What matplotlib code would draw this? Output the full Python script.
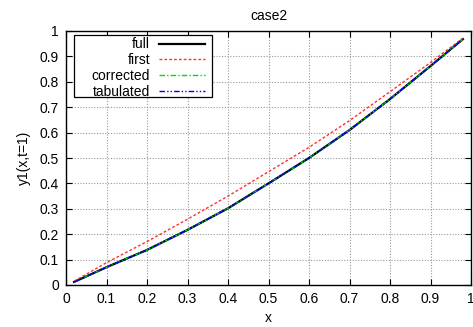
import matplotlib
matplotlib.use("Agg")
import matplotlib.pyplot as plt
from matplotlib.patches import Rectangle
import numpy as np

plt.rcParams['font.family'] = ['Liberation Sans', 'DejaVu Sans']

x = [0.02, 0.1, 0.2, 0.3, 0.4, 0.5, 0.6, 0.7, 0.8, 0.9, 0.98]
full = [0.012, 0.070, 0.138, 0.217, 0.302, 0.400, 0.500, 0.610, 0.732, 0.862, 0.968]
first = [0.015, 0.088, 0.171, 0.259, 0.350, 0.446, 0.542, 0.647, 0.761, 0.876, 0.972]
corrected = [0.012, 0.070, 0.138, 0.217, 0.302, 0.400, 0.500, 0.610, 0.732, 0.862, 0.968]
tabulated = [0.012, 0.070, 0.138, 0.217, 0.302, 0.400, 0.500, 0.610, 0.732, 0.862, 0.968]

xticks = [0, 0.1, 0.2, 0.3, 0.4, 0.5, 0.6, 0.7, 0.8, 0.9, 1]
yticks = [0, 0.1, 0.2, 0.3, 0.4, 0.5, 0.6, 0.7, 0.8, 0.9, 1]

fig = plt.figure(figsize=(4.73, 3.27), dpi=100)
ax = fig.add_axes([66/473, 1-285/327, 405/473, 254/327])

ax.plot(x, full, color='black', lw=1.6, label='full')
ax.plot(x, first, color='#ff3030', lw=1.0, ls=(0, (2, 1.5)), label='first')
ax.plot(x, corrected, color='#00dd00', lw=1.0, ls=(0, (4, 1.5, 1, 1.5)), label='corrected')
ax.plot(x, tabulated, color='#0000ee', lw=1.0, ls=(0, (4, 1.5, 1, 1.5, 1, 1.5)), label='tabulated')

ax.set_xlim(0, 1)
ax.set_ylim(0, 1)
ax.set_xticks(xticks)
ax.set_yticks(yticks)
ax.set_xticklabels([f"{v:g}" for v in xticks], fontsize=10)
ax.set_yticklabels([f"{v:g}" for v in yticks], fontsize=10)
ax.tick_params(direction='in', top=True, right=True, length=4, width=0.8, pad=5)
ax.grid(True, color='#999999', ls=(0, (1, 1.5)), lw=0.8)
for s in ax.spines.values():
    s.set_linewidth(1.0)

ax.set_title('case2', fontsize=10, pad=8)
ax.set_xlabel('x', fontsize=10, labelpad=4)
ax.set_ylabel('y1(x,t=1)', fontsize=10, labelpad=6)

# legend frame (gnuplot style, wide key box)
box_x0, box_x1 = (74 - 66) / 405, (212 - 66) / 405
box_y0, box_y1 = (285 - 97) / 254, (285 - 35) / 254
ax.add_patch(Rectangle((box_x0, box_y0), box_x1 - box_x0, box_y1 - box_y0,
                       transform=ax.transAxes, facecolor='white', edgecolor='black',
                       lw=0.9, zorder=4, clip_on=False))

leg = ax.legend(loc='upper right', bbox_to_anchor=((205 - 66) / 405, (285 - 37.5) / 254),
                markerfirst=False, fontsize=10, frameon=False,
                handlelength=3.3, borderpad=0, labelspacing=0.12,
                handletextpad=0.65, borderaxespad=0)
leg.set_zorder(5)
for t in leg.get_texts():
    t.set_ha('right')

fig.savefig('out.png', dpi=100)
